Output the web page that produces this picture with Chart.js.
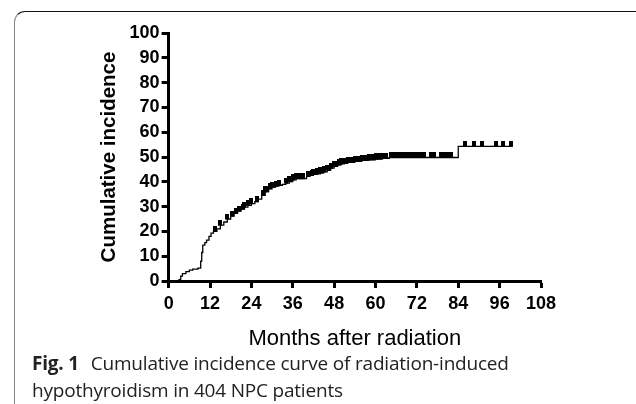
<!DOCTYPE html>
<html>
<head>
<meta charset="utf-8">
<script src="https://cdn.jsdelivr.net/npm/chart.js@4.4.1/dist/chart.umd.min.js"></script>
<style>
  body { margin: 0; background: #fff; }
  #wrap { position: relative; width: 636px; height: 404px; overflow: hidden; }
  #frame { position: absolute; left: 14px; top: 11px; width: 640px; height: 420px;
           border-top: 1.5px solid #111; border-left: 1.5px solid #888; border-radius: 11px 0 0 0; }
  #mycanvas { position: absolute; left: 0; top: 0; }
  #caption { position: absolute; left: 32px; top: 350px; width: 600px;
             font-family: "Open Sans", sans-serif; font-size: 19px; line-height: 27px; color: #222;
             letter-spacing: -0.2px; }
  #caption b { font-weight: 700; margin-right: 7px; }
</style>
</head>
<body>
<div id="wrap">
  <div id="frame"></div>
  <canvas id="mycanvas" width="636" height="404"></canvas>
  <div id="caption"><b>Fig. 1</b> Cumulative incidence curve of radiation-induced<br>hypothyroidism in 404 NPC patients</div>
</div>
<script>
// step points of the cumulative incidence curve (month, %)
var eventMonths = [0, 3, 3.5, 4, 5, 6, 7, 8.5, 9.3, 9.6, 9.9, 10.5, 11, 11.7, 12.3, 13, 14, 15, 16, 17, 18, 19, 20, 21, 22, 23, 24, 25, 26, 27, 28, 29, 30, 31, 32, 33, 34, 35, 36, 37, 40, 41, 42, 43, 44, 45, 46, 47, 48, 49, 50, 51, 52, 54, 56, 58, 60, 62, 64, 84, 99.5];
var eventIncidence = [0, 0.5, 2, 3, 3.8, 4.4, 4.8, 5.2, 8, 11.5, 14.5, 15.5, 16.5, 18, 19.3, 20, 21, 22.5, 23.8, 25, 26.2, 27.3, 28.2, 29, 29.8, 30.5, 31.2, 32, 33, 34.5, 36, 37.2, 37.9, 38.3, 38.6, 39, 39.5, 40.1, 40.8, 41.3, 42.2, 42.6, 43, 43.2, 43.6, 44, 44.7, 45.5, 46.2, 46.8, 47.2, 47.5, 47.8, 48.2, 48.6, 48.9, 49.2, 49.5, 49.8, 54.3, 54.3];
// censored observations (month)
var censorMonths = [13.5, 15, 17, 18.5, 19.5, 20.5, 21.5, 22, 23, 24, 25.5, 27.5, 28, 28.5, 29.5, 30, 30.5, 31, 32, 34, 35, 35.5, 36, 37, 38, 38.5, 39, 40.5, 41.5, 42, 42.5, 43, 44, 44.5, 45, 46, 46.5, 47, 48, 48.5, 49.5, 50, 51, 51.5, 52, 53, 53.5, 54, 55, 55.5, 56, 57, 58, 59, 60, 61, 62, 63, 64.5, 65, 65.5, 66, 67, 67.5, 68, 69, 69.5, 70, 71, 72, 72.5, 73, 74, 76, 77, 79, 80, 81, 82, 86, 88.5, 91, 95, 97, 99.3];

var curve = [];
for (var i in eventMonths) {
  curve.push({x: eventMonths[i], y: eventIncidence[i]});
}

// a censor mark sits on the curve at the value reached so far
function levelAt(t) {
  var v = 0;
  for (var k = 0; k < eventMonths.length; k++) {
    if (eventMonths[k] <= t) v = eventIncidence[k];
  }
  return v;
}
var censored = [];
for (var j in censorMonths) {
  censored.push({x: censorMonths[j], y: levelAt(censorMonths[j])});
}

// tick mark drawn upward from the line
var tick = document.createElement('canvas');
tick.width = 4; tick.height = 11;
var tctx = tick.getContext('2d');
tctx.fillStyle = '#000';
tctx.fillRect(0, 0, 4, 6);

var ctx = document.getElementById('mycanvas');
var chart = new Chart(ctx, {
  type: 'line',
  data: {
    datasets: [
      {
        data: curve,
        borderColor: '#000',
        borderWidth: 1.3,
        stepped: 'before',
        pointRadius: 0,
        fill: false
      },
      {
        data: censored,
        showLine: false,
        pointStyle: tick,
        pointRadius: 3,
        borderWidth: 0
      }
    ]
  },
  options: {
    responsive: false,
    animation: false,
    layout: { padding: { left: 97, top: 33, right: 95, bottom: 45 } },
    plugins: { legend: { display: false }, tooltip: { enabled: false } },
    scales: {
      x: {
        type: 'linear',
        min: 0, max: 108,
        border: { color: '#000', width: 3 },
        grid: { drawOnChartArea: false, drawTicks: true, tickLength: 7, tickWidth: 3, tickColor: '#000' },
        ticks: { stepSize: 12, color: '#000', padding: 5, maxRotation: 0, autoSkip: false,
                 font: { family: 'Liberation Sans', weight: 'bold', size: 18 } },
        title: { display: true, text: 'Months after radiation', color: '#000', padding: { top: 6, bottom: 7 },
                 font: { family: 'Liberation Sans', size: 22 } }
      },
      y: {
        min: 0, max: 100,
        border: { color: '#000', width: 3 },
        grid: { drawOnChartArea: false, drawTicks: true, tickLength: 7, tickWidth: 3, tickColor: '#000' },
        ticks: { stepSize: 10, color: '#000', padding: 2, autoSkip: false,
                 font: { family: 'Liberation Sans', weight: 'bold', size: 18 } },
        title: { display: true, text: 'Cumulative incidence', color: '#000', padding: { top: 0, bottom: 6 },
                 font: { family: 'Liberation Sans', weight: 'bold', size: 20.5 } }
      }
    }
  }
});
</script>
</body>
</html>
